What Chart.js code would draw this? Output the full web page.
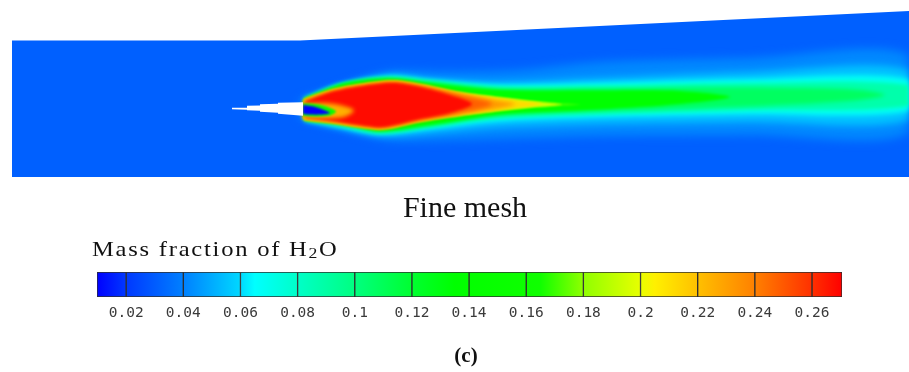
<!DOCTYPE html>
<html>
<head>
<meta charset="utf-8">
<script src="https://cdn.jsdelivr.net/npm/chart.js@4.4.0/dist/chart.umd.min.js"></script>
<style>
  html, body { margin: 0; background: #fff; }
  #wrap { position: relative; width: 909px; height: 372px; overflow: hidden; }
  canvas { position: absolute; left: 0; }
  #field { top: 0; }
  #bar { top: 272px; }
  .txt { position: absolute; font-family: "Liberation Serif", "Times New Roman", serif; color: #111; white-space: nowrap; line-height: 1; }
  #caption { top: 192px; left: 0; width: 930px; text-align: center; font-size: 30px; }
  #barTitle { top: 239px; left: 92px; font-size: 21px; letter-spacing: 1.5px; transform: scaleX(1.17); transform-origin: left top; }
  #barTitle span { font-size: 0.72em; position: relative; top: 0.12em; }
  #panel { top: 345px; left: 0; width: 932px; text-align: center; font-size: 21px; font-weight: bold; }
</style>
</head>
<body>
<div id="wrap">
  <canvas id="field" width="909" height="372"></canvas>
  <div class="txt" id="caption">Fine mesh</div>
  <div class="txt" id="barTitle">Mass fraction of H<span>2</span>O</div>
  <canvas id="bar" width="909" height="65"></canvas>
  <div class="txt" id="panel">(c)</div>
</div>
<script>
// colour map of the H2O mass fraction legend
const stopValues = [0.0098, 0.02, 0.04, 0.06, 0.065, 0.08, 0.10, 0.12, 0.135, 0.165, 0.18, 0.20, 0.205, 0.22, 0.24, 0.26, 0.2705];
const stopColours = ['#0000ff', '#0038ff', '#0080ff', '#00d8ff', '#00ffff', '#00ffc8', '#00ff80', '#00ff30', '#00ff00',
  '#10ff00', '#90ff00', '#e8ff00', '#fff000', '#ffc000', '#ff8000', '#ff3000', '#ff0000'];

// legend bar bands and tick labels
const bandEdges = [0.0098, 0.02, 0.04, 0.06, 0.08, 0.10, 0.12, 0.14, 0.16, 0.18, 0.20, 0.22, 0.24, 0.26, 0.2705];
const tickValues = [0.02, 0.04, 0.06, 0.08, 0.1, 0.12, 0.14, 0.16, 0.18, 0.2, 0.22, 0.24, 0.26];

// geometry: x along the duct, r across it (0 on the injector axis)
const domainOutline = [[0, -68.5], [0, 68], [288, 68], [897, 97.5], [897, -68.5]];
const nozzle = [[220, 0.8], [235, 0.8], [235, 2.8], [248, 3], [248, 4.2], [266, 4.7], [266, 5.7], [291, 6.2],
  [291, -7.2], [266, -5.3], [266, -4.3], [248, -3.3], [248, -2.3], [235, -1.8], [235, -1.2], [220, -0.8]];

// iso-contours of the H2O field
const background = 0.031;
const iso042 = [[288, 8.5], [318, 18.5], [378, 36.5], [438, 36.5], [508, 38.5], [588, 46.5], [738, 50.5], [897, 53.5],
  [897, -24.5], [738, -26.5], [588, -27.5], [508, -29.5], [438, -31.5], [378, -31.5], [318, -17.5], [288, -9.5]];
const iso055 = [[293, 9.5], [328, 22.5], [378, 33.5], [418, 29.5], [488, 26.5], [588, 30.5], [738, 36.5], [897, 38.5],
  [897, -11.5], [738, -13.5], [588, -15.5], [488, -18.5], [418, -24.5], [368, -27.5], [328, -19.5], [293, -11.5]];
const iso068 = [[293, 9.5], [328, 23.5], [378, 32], [418, 28.5], [488, 23.5], [588, 25.5], [738, 29.5], [897, 29.5],
  [897, -2.5], [738, -5.5], [588, -8.5], [488, -12.5], [418, -20.5], [368, -25.5], [328, -18.5], [293, -11.5]];
const iso088 = [[293, 10], [328, 24], [378, 31], [418, 27.5], [488, 21.5], [588, 22.5], [738, 25.5], [897, 23.5],
  [897, 2.5], [738, -1.5], [588, -5.5], [488, -9.5], [418, -18.5], [368, -24.5], [328, -17.5], [293, -11.5]];
const iso108 = [[293, 10], [333, 25], [378, 30.5], [418, 26.5], [488, 20], [588, 20], [688, 21], [788, 20.5], [848, 18.5],
  [873, 13.5], [848, 8.5], [788, 4.5], [688, 0.5], [588, -3], [488, -7.5], [418, -17.5], [368, -23.5], [333, -16.5], [293, -11.5]];
const iso135 = [[293, 10], [333, 25.5], [378, 30], [418, 25.5], [488, 18.5], [588, 18], [668, 17.5], [718, 11.5],
  [668, 4.5], [588, -1], [488, -6], [418, -16.5], [368, -22.5], [333, -15.5], [293, -11.5]];
const iso170 = [[292, 9.5], [318, 18.5], [348, 24.5], [381, 28], [408, 24.5], [448, 16.5], [488, 11.5], [518, 8], [548, 5.5],
  [568, 4], [548, 2.5], [518, 0.5], [488, -2.5], [448, -7.5], [408, -13.5], [371, -21], [348, -19], [318, -14.5], [292, -11.5]];
const iso195 = [[292, 9], [318, 18], [348, 24], [381, 27.5], [408, 24], [448, 16], [488, 11], [518, 7.5], [538, 5.5],
  [550, 4], [538, 2.5], [518, 1], [488, -2], [448, -7], [408, -13], [371, -20.5], [348, -18.5], [318, -14], [292, -11]];
const iso212 = [[292, 8.5], [318, 17.5], [348, 23.5], [381, 27], [408, 23.5], [448, 15.5], [488, 10], [513, 7],
  [530, 4.5], [513, 1.5], [488, -1.5], [448, -6.5], [408, -12.5], [371, -20], [348, -18], [318, -13.5], [292, -10.5]];
const iso232 = [[292, 8], [318, 17], [348, 23], [381, 26.5], [408, 23], [448, 14.5], [483, 8.5],
  [503, 4.5], [483, -0.5], [448, -5.5], [408, -12], [371, -19.5], [348, -17.5], [318, -13], [292, -10]];
const iso248 = [[292, 7.5], [318, 16.5], [348, 22.5], [381, 26], [408, 22.5], [448, 13.5],
  [480, 4.5], [448, -4.5], [408, -11.5], [371, -19], [348, -17], [318, -12.5], [292, -9.5]];
const iso268 = [[294, 7], [318, 16], [348, 22], [381, 25.5], [408, 21.5], [438, 13.5],
  [460, 4.5], [438, -4.5], [408, -10.5], [371, -18.5], [348, -16.5], [318, -12], [294, -9]];
// recirculation pocket behind the injector
const pocket225 = [[291, 5], [312, 5.5], [330, 3], [342, -2], [332, -8.5], [312, -10], [291, -9.5]];
const pocket150 = [[291, 5], [304, 4.5], [316, 1.5], [324, -3], [318, -7], [304, -8], [291, -7.5]];
const pocket010 = [[291, 3.5], [302, 2], [312, -1.5], [318, -4.5], [309, -6], [297, -6], [291, -5.5]];

function hexRgb(h) {
  return [1, 3, 5].map(i => parseInt(h.slice(i, i + 2), 16));
}

function colourAt(v) {
  if (v <= stopValues[0]) return stopColours[0];
  for (let i = 1; i < stopValues.length; i++) {
    if (v <= stopValues[i]) {
      const t = (v - stopValues[i - 1]) / (stopValues[i] - stopValues[i - 1]);
      const a = hexRgb(stopColours[i - 1]), b = hexRgb(stopColours[i]);
      const c = a.map((x, k) => Math.round(x + (b[k] - x) * t));
      return `rgb(${c[0]},${c[1]},${c[2]})`;
    }
  }
  return stopColours[stopColours.length - 1];
}

// [value, outline, blur px, tension], bottom layer first
const layers = [
  [background, domainOutline, 0, 0],
  [0.042, iso042, 5, 0.3],
  [0.055, iso055, 3.5, 0.3],
  [0.068, iso068, 2.5, 0.3],
  [0.088, iso088, 2, 0.3],
  [0.108, iso108, 2, 0.3],
  [0.135, iso135, 1.5, 0.3],
  [0.170, iso170, 1, 0.3],
  [0.195, iso195, 1, 0.3],
  [0.212, iso212, 1.5, 0.3],
  [0.232, iso232, 2, 0.3],
  [0.248, iso248, 2, 0.3],
  [0.268, iso268, 1.5, 0.3],
  [0.225, pocket225, 2, 0.3],
  [0.150, pocket150, 1, 0.3],
  [0.010, pocket010, 0.8, 0.3],
  [null, nozzle, 0, 0]
];

// index 0 is drawn last, so the top layer goes first
const fieldSets = layers.slice().reverse().map(([value, pts, blur, tension]) => ({
  data: pts.map(([x, r]) => ({ x, y: r })),
  showLine: true,
  fill: 'shape',
  backgroundColor: value === null ? '#ffffff' : colourAt(value),
  borderColor: 'transparent',
  borderWidth: 0,
  pointRadius: 0,
  tension,
  blur
}));

function setBlur(chart, i) {
  const ds = chart.data.datasets[i];
  chart.ctx.filter = ds && ds.blur ? `blur(${ds.blur}px)` : 'none';
}

// soften the contour bands; datasets are drawn from the last index down
const fieldBlur = {
  id: 'fieldBlur',
  beforeDatasetsDraw(chart) { setBlur(chart, chart.data.datasets.length - 1); },
  afterDatasetDraw(chart, args) { setBlur(chart, args.index - 1); },
  afterDatasetsDraw(chart) { chart.ctx.filter = 'none'; }
};

new Chart(document.getElementById('field'), {
  type: 'scatter',
  data: { datasets: fieldSets },
  options: {
    responsive: false,
    animation: false,
    events: [],
    layout: { padding: 0 },
    plugins: {
      legend: { display: false },
      tooltip: { enabled: false },
      filler: { propagate: false }
    },
    scales: {
      x: { type: 'linear', display: false, min: -12, max: 897 },
      y: { type: 'linear', display: false, min: -263.5, max: 108.5 }
    }
  },
  plugins: [fieldBlur]
});

function bandGradient(chart, lo, hi) {
  const { chartArea, scales } = chart;
  if (!chartArea) return colourAt((lo + hi) / 2);
  const x0 = scales.x.getPixelForValue(lo);
  const x1 = scales.x.getPixelForValue(hi);
  const g = chart.ctx.createLinearGradient(x0, 0, x1, 0);
  g.addColorStop(0, colourAt(lo));
  stopValues.forEach((v, i) => {
    if (v > lo && v < hi) g.addColorStop((v - lo) / (hi - lo), stopColours[i]);
  });
  g.addColorStop(1, colourAt(hi));
  return g;
}

const barSets = bandEdges.slice(0, -1).map((lo, i) => {
  const hi = bandEdges[i + 1];
  return {
    data: [[lo, hi]],
    backgroundColor: ctx => bandGradient(ctx.chart, lo, hi),
    borderColor: '#2e2e2e',
    borderWidth: 1,
    borderSkipped: false,
    grouped: false,
    barPercentage: 1,
    categoryPercentage: 1
  };
});

new Chart(document.getElementById('bar'), {
  type: 'bar',
  data: { labels: [''], datasets: barSets },
  options: {
    indexAxis: 'y',
    responsive: false,
    animation: false,
    events: [],
    layout: { padding: { left: 97, right: 67, top: 0, bottom: 0 } },
    plugins: { legend: { display: false }, tooltip: { enabled: false } },
    scales: {
      x: {
        type: 'linear',
        min: bandEdges[0],
        max: bandEdges[bandEdges.length - 1],
        grid: { display: false, drawTicks: false },
        border: { display: false },
        afterBuildTicks: s => { s.ticks = tickValues.map(v => ({ value: v })); },
        afterFit: s => { s.height = 40; },
        ticks: {
          autoSkip: false,
          maxRotation: 0,
          padding: 8,
          color: '#3a3a3a',
          font: { family: 'DejaVu Sans Mono', size: 14.5 },
          callback: v => String(v)
        }
      },
      y: { display: false }
    }
  }
});
</script>
</body>
</html>
